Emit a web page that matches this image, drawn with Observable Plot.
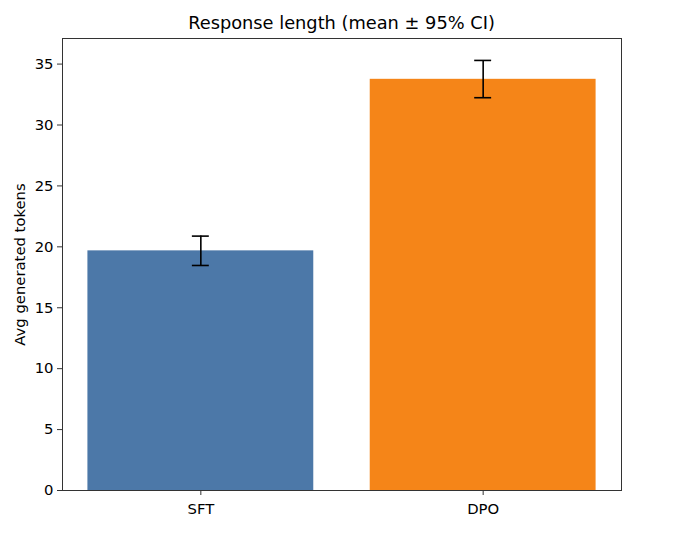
<!DOCTYPE html>
<html>
<head>
<meta charset="utf-8">
<script src="https://cdn.jsdelivr.net/npm/d3@7"></script>
<script src="https://cdn.jsdelivr.net/npm/@observablehq/plot@0.6"></script>
<style>
  html, body { margin: 0; padding: 0; background: #fff; }
  #wrap { width: 676px; height: 543px; position: relative; font-family: "DejaVu Sans", sans-serif; }
  #title { position: absolute; left: 62px; width: 559px; top: 14px; text-align: center; font-size: 17.8px; color: #000; line-height: 1; z-index: 2; }
  #chart { position: absolute; left: 0; top: 30px; z-index: 1; }
</style>
</head>
<body>
<div id="wrap">
  <div id="title">Response length (mean ± 95% CI)</div>
  <div id="chart"></div>
</div>
<script>
const categories = ["SFT", "DPO"];
const means = [19.67, 33.75];
const ciLow = [18.47, 32.24];
const ciHigh = [20.88, 35.30];
const colors = ["#4c78a8", "#f58518"];
const yTicks = [0, 5, 10, 15, 20, 25, 30, 35];

const data = categories.map((c, i) => ({
  cat: c, idx: i, mean: means[i], lo: ciLow[i], hi: ciHigh[i], color: colors[i]
}));

const halfBar = 0.4;
const halfCap = 0.03;

const chart = Plot.plot({
  width: 676,
  height: 513,
  marginLeft: 62,
  marginRight: 55,
  marginTop: 8,
  marginBottom: 53,
  style: { fontFamily: "DejaVu Sans, sans-serif", fontSize: "14.8px", color: "#000", background: "transparent" },
  x: { domain: [-0.49, 1.49] },
  y: { domain: [0, 37.1] },
  marks: [
    Plot.rectY(data, { x1: d => d.idx - halfBar, x2: d => d.idx + halfBar, y1: 0, y2: "mean", fill: "color", insetLeft: 0, insetRight: 0 }),
    Plot.ruleX(data, { x: "idx", y1: "lo", y2: "hi", stroke: "#000", strokeWidth: 1.6 }),
    Plot.ruleY(data, { y: "lo", x1: d => d.idx - halfCap, x2: d => d.idx + halfCap, stroke: "#000", strokeWidth: 1.6 }),
    Plot.ruleY(data, { y: "hi", x1: d => d.idx - halfCap, x2: d => d.idx + halfCap, stroke: "#000", strokeWidth: 1.6 }),
    Plot.axisY({ ticks: yTicks, tickSize: 5, tickPadding: 4, label: "Avg generated tokens", labelAnchor: "center", labelArrow: "none", labelOffset: 48, stroke: "#333" }),
    Plot.axisX({ ticks: [0, 1], tickFormat: i => categories[i], tickSize: 5, tickPadding: 8, label: null, stroke: "#333" }),
    Plot.frame({ stroke: "#333", strokeWidth: 1 })
  ]
});
document.getElementById("chart").appendChild(chart);
</script>
</body>
</html>
